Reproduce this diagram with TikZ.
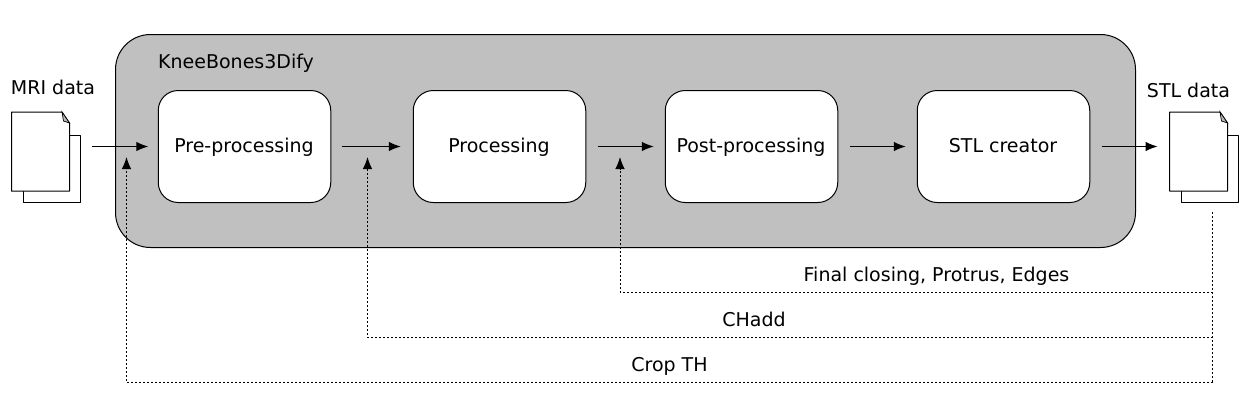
\documentclass[tikz,border=0pt]{standalone}
\usepackage{fontspec}
\setmainfont{DejaVu Sans}
\usetikzlibrary{arrows.meta}
\tikzset{
  outerbox/.style={draw=black,line width=1pt,fill=outergrey,rounded corners=35pt,minimum width=1020pt,minimum height=213pt,outer sep=0pt,inner sep=0pt},
  stagebox/.style={draw=black,line width=1pt,fill=white,rounded corners=20pt,minimum width=172.5pt,minimum height=112pt,outer sep=0pt,inner sep=0pt},
  docarea/.style={minimum width=69pt,minimum height=90pt,outer sep=0pt,inner sep=0pt},
  docline/.style={draw=black,line width=1pt,line join=round},
  flow/.style={draw=black,line width=1pt,-{Latex[length=12pt,width=9.5pt]}},
  feedback/.style={draw=black,line width=1pt,dash pattern=on 2pt off 2pt},
  fbarrow/.style={feedback,-{Latex[length=12pt,width=9.5pt]}},
  lbl/.style={font=\fontsize{19}{21}\selectfont,inner sep=0pt,text=black,anchor=base},
}
\definecolor{outergrey}{HTML}{C0C0C0}
\definecolor{foldgrey}{HTML}{B8B8B8}
\newcommand{\docicon}[3]{%
  \node[docarea] (#1) at (#2+34.5,#3+45) {};
  \draw[docline,fill=white] (#2+12,#3+23) -- (#2+69,#3+23) -- (#2+69,#3+90) -- (#2+12,#3+90) -- cycle;
  \draw[docline,fill=white] (#2,#3) -- (#2+50.5,#3) -- (#2+58,#3+11) -- (#2+58,#3+79) -- (#2,#3+79) -- cycle;
  \draw[line width=.7pt,fill=foldgrey] (#2+50.5,#3) -- (#2+58,#3+11) -- (#2+52,#3+9) -- cycle;
}
\begin{document}
\begin{tikzpicture}[x=1pt,y=-1pt]
\useasboundingbox (0,0) rectangle (1251,400);
\node[outerbox] (outer) at (625.5,141) {};
\node[stagebox] (pre) at (244.5,146.5) {};
\node[stagebox] (proc) at (499.5,146.5) {};
\node[stagebox] (post) at (751.5,146.5) {};
\node[stagebox] (stl) at (1003.5,146.5) {};
\node[lbl] (tpre) at (244,152) {Pre-processing};
\node[lbl] (tproc) at (499,152) {Processing};
\node[lbl] (tpost) at (751,152) {Post-processing};
\node[lbl] (tstl) at (1003,152) {STL creator};
\node[lbl,anchor=base west] (title) at (158,68) {KneeBones3Dify};
\docicon{mri}{11.5}{112}
\docicon{stldoc}{1169.5}{112}
\node[lbl] (mrilabel) at (53,94.5) {MRI data};
\node[lbl] (stllabel) at (1188.5,97) {STL data};
\draw[flow,shorten <=11.5pt,shorten >=10pt] (mri.east |- pre.west) -- (pre.west);
\draw[flow,shorten <=11pt,shorten >=12.5pt] (pre) -- (proc);
\draw[flow,shorten <=12pt,shorten >=11.5pt] (proc) -- (post);
\draw[flow,shorten <=12pt,shorten >=11.5pt] (post) -- (stl);
\draw[flow,shorten <=12pt,shorten >=12pt] (stl.east) -- (stldoc.west |- stl.east);
\coordinate (fbtop) at (1212.5,212);
\coordinate (fba) at (1212.5,292.5);
\coordinate (fbb) at (1212.5,337.5);
\coordinate (fbc) at (1212.5,382.5);
\coordinate (tipa) at (620,157);
\coordinate (tipb) at (367.5,157);
\coordinate (tipc) at (126.5,157);
\draw[feedback] (fbtop) -- (fbc);
\draw[fbarrow] (fba) -- (tipa |- fba) -- (tipa);
\draw[fbarrow] (fbb) -- (tipb |- fbb) -- (tipb);
\draw[fbarrow] (fbc) -- (tipc |- fbc) -- (tipc);
\node[lbl] (la) at (936.5,281) {Final closing, Protrus, Edges};
\node[lbl] (lb) at (754,326.5) {CHadd};
\node[lbl] (lc) at (669.5,371) {Crop TH};
\end{tikzpicture}
\end{document}
